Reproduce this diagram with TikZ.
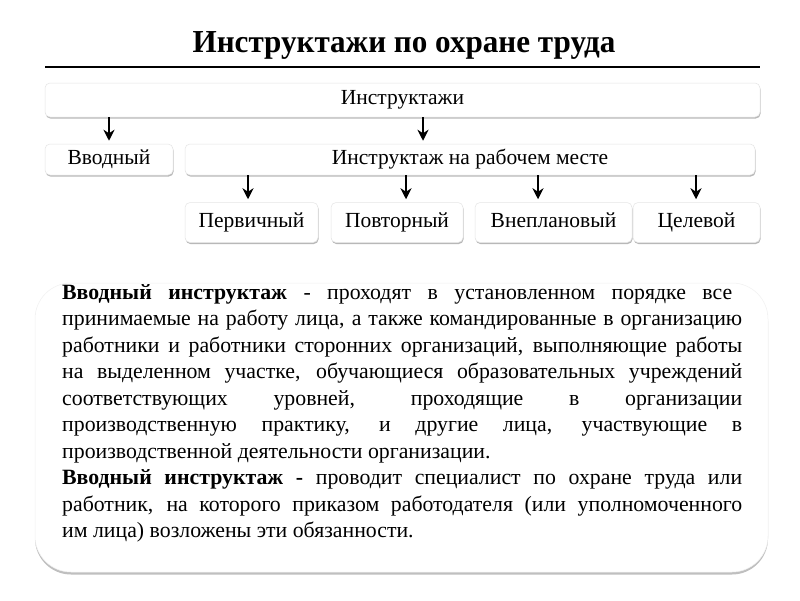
\documentclass[tikz,border=0pt]{standalone}
\usepackage{fontspec}
\setmainfont{Liberation Serif}
\usetikzlibrary{arrows.meta,shadows}
\begin{document}
\begin{tikzpicture}[x=1pt,y=-1pt,
 box/.style={draw=gray!20, line width=0.5pt, fill=white, rounded corners=5pt,
   drop shadow={shadow xshift=0.6pt, shadow yshift=-1.6pt, fill=black, opacity=0.28},
   font=\fontsize{21.5}{24}\selectfont, inner sep=0pt, text height=14pt, text depth=4.5pt},
 arr/.style={-{Stealth[length=11pt,width=11pt,inset=3.5pt]}, line width=2pt, shorten >=3pt},
 bodyline/.style={anchor=base west, inner sep=0pt, font=\fontsize{21.8}{24}\selectfont}]
\useasboundingbox[fill=white] (0,0) rectangle (800,600);
% title
\node[font=\bfseries\fontsize{30.5}{33}\selectfont, inner sep=0pt] (title) at (404,45) {\scalebox{1.02}[1.05]{Инструктажи по охране труда}};
\coordinate (tl) at (45,67);
\coordinate (tr) at (760,67);
\draw[line width=2pt] (tl) -- (tr);
% boxes
\node[box, minimum width=715pt, minimum height=34pt] (top) at (402.5,100) {Инструктажи};
\node[box, minimum width=128pt, minimum height=31pt] (vv) at (109,159.5) {Вводный};
\node[box, minimum width=570pt, minimum height=31pt] (rab) at (470,159.5) {Инструктаж на рабочем месте};
\node[box, minimum width=133pt, minimum height=40pt] (p1) at (251.5,222.5) {Первичный};
\node[box, minimum width=132pt, minimum height=40pt] (p2) at (397,222.5) {Повторный};
\node[box, minimum width=157pt, minimum height=40pt] (p3) at (553.5,222.5) {Внеплановый};
\node[box, minimum width=127pt, minimum height=40pt] (p4) at (696.5,222.5) {Целевой};
% arrows
\coordinate (a1) at ([xshift=-47pt]rab.north);
\draw[arr] (vv.north |- top.south) -- (vv.north);
\draw[arr] (a1 |- top.south) -- (a1);
\coordinate (b1) at ([xshift=-3.5pt]p1.north);
\coordinate (b2) at ([xshift=9pt]p2.north);
\coordinate (b3) at ([xshift=-15.5pt]p3.north);
\coordinate (b4) at ([xshift=-0.5pt]p4.north);
\draw[arr] (b1 |- rab.south) -- (b1);
\draw[arr] (b2 |- rab.south) -- (b2);
\draw[arr] (b3 |- rab.south) -- (b3);
\draw[arr] (b4 |- rab.south) -- (b4);
% text panel
\path[fill=white, draw=gray!12, line width=0.5pt, rounded corners=36pt,
  drop shadow={shadow xshift=0pt, shadow yshift=-2.5pt, fill=black, opacity=0.25}]
  (35,283) rectangle (768,572);
\node[bodyline] (l1) at (62,299) {\makebox[670pt][s]{\textbf{Вводный инструктаж} - проходят в установленном порядке все}};
\node[bodyline] (l2) at (62,325.5) {\makebox[680pt][s]{принимаемые на работу лица, а также командированные в организацию}};
\node[bodyline] (l3) at (62,352) {\makebox[680pt][s]{работники и работники сторонних организаций, выполняющие работы}};
\node[bodyline] (l4) at (62,378.5) {\makebox[680pt][s]{на выделенном участке, обучающиеся образовательных учреждений}};
\node[bodyline] (l5) at (62,405) {\makebox[680pt][s]{соответствующих уровней, проходящие в организации}};
\node[bodyline] (l6) at (62,431.5) {\makebox[680pt][s]{производственную практику, и другие лица, участвующие в}};
\node[bodyline] (l7) at (62,458) {производственной деятельности организации.};
\node[bodyline] (l8) at (62,484.5) {\makebox[680pt][s]{\textbf{Вводный инструктаж -} проводит специалист по охране труда или}};
\node[bodyline] (l9) at (62,511) {\makebox[680pt][s]{работник, на которого приказом работодателя (или уполномоченного}};
\node[bodyline] (l10) at (62,537.5) {им лица) возложены эти обязанности.};
\end{tikzpicture}
\end{document}
